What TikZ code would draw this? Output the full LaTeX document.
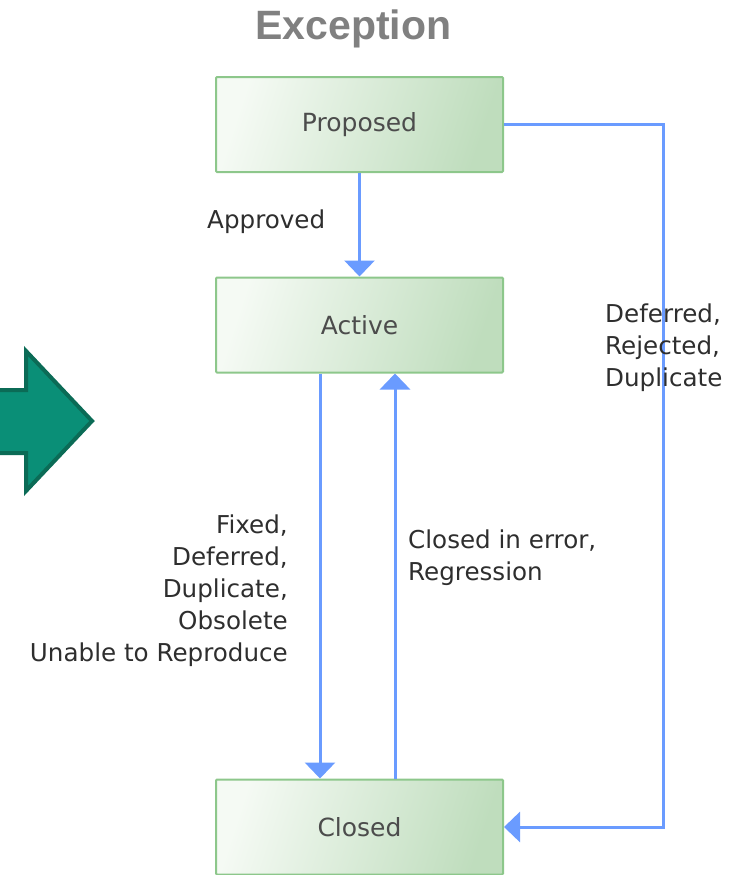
\documentclass[tikz,border=0pt]{standalone}
\usepackage{fontspec}
\setmainfont{DejaVu Sans}
\newfontfamily\titlefont{Liberation Sans}
\usepackage{tikz}
\usetikzlibrary{
  arrows.meta,
  positioning
}
\definecolor{statelight}{HTML}{F5FAF4}
\definecolor{statedark}{HTML}{BFDDBD}
\definecolor{stateline}{HTML}{8DC78B}
\definecolor{flowblue}{HTML}{6A9BFF}
\definecolor{tealfill}{HTML}{0A8F77}
\definecolor{tealline}{HTML}{0B6B56}
\definecolor{lbltext}{HTML}{2E2E2E}

\begin{document}
\begin{tikzpicture}[x=1pt, y=-1pt,
  state/.style={draw=stateline, line width=2pt, left color=statelight,
                right color=statedark, shading angle=72, rounded corners=1pt,
                minimum width=287pt, minimum height=95pt,
                font=\fontsize{25}{30}\selectfont, text=black!70},
  flow/.style={-{Triangle[width=30pt, length=16pt]}, line width=3pt, flowblue},
  lbl/.style={font=\fontsize{24.6}{32}\selectfont, text=lbltext, inner sep=0pt},
  title/.style={font=\titlefont\bfseries\fontsize{41}{48}\selectfont, text=black!50},
]
  \useasboundingbox (0,0) rectangle (742,875);

  \node[title, anchor=base] (head) at (353.5, 40) {Exception};

  \node[state] (prop) at (359.5, 124.5) {Proposed};
  \node[state] (act)  at (359.5, 325)   {Active};
  \node[state] (clo)  at (359.5, 827)   {Closed};

  \draw[flow] (prop) -- (act);
  \draw[flow] ([xshift=-39.5pt]act.south) -- ([xshift=-39.5pt]clo.north);
  \draw[flow] ([xshift=35.5pt]clo.north) -- ([xshift=35.5pt]act.south);
  \draw[flow] (prop.east) -- ++(159, 0) |- (clo.east);

  \node[lbl, anchor=base west] (appr) at (207, 228) {Approved};
  \node[lbl, align=left, anchor=north west] (rej) at (605, 304)
    {Deferred,\\Rejected,\\Duplicate};
  \node[lbl, align=right, anchor=north east] (fix) at (288, 515)
    {Fixed,\\Deferred,\\Duplicate,\\Obsolete\\Unable to Reproduce};
  \node[lbl, align=left, anchor=north west] (reg) at (408, 530)
    {Closed in error,\\Regression};

  % big arrow on the left
  \draw[line width=4pt, draw=tealline, fill=tealfill, line join=miter]
    (-10, 390) -- (26, 390) -- (26, 351) -- (92, 421) -- (26, 491)
    -- (26, 453) -- (-10, 453) -- cycle;
\end{tikzpicture}
\end{document}
